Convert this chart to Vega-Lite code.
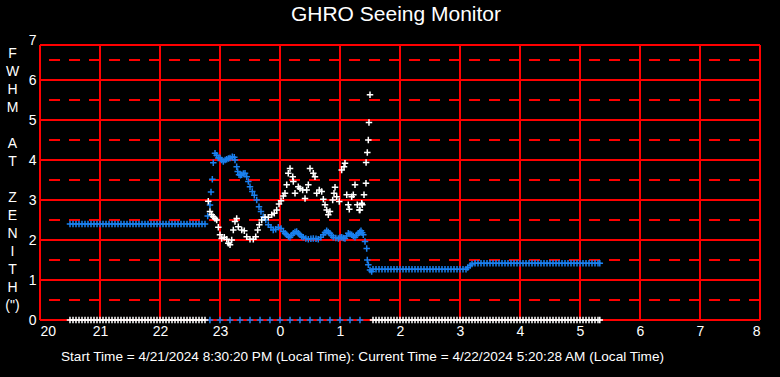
{
"$schema": "https://vega.github.io/schema/vega-lite/v6.json",
"autosize": "none",
"width": 720,
"height": 280,
"padding": {"left": 40, "top": 40, "right": 20, "bottom": 57},
"background": "#000000",
"config": {"view": {"stroke": null},
  "axisY": {"values": [0,1,2,3,4,5,6,7], "grid": false, "domain": false, "ticks": false, "labelOverlap": false,
    "labelColor": "#ffffff", "labelFont": "Liberation Sans", "labelFontSize": 14, "labelPadding": 4,
    "titleColor": "#ffffff", "titleFont": "Liberation Sans", "titleFontSize": 14, "titleFontWeight": "normal",
    "titleAngle": 0, "titleX": -28, "titleY": 13, "titleBaseline": "middle", "titleAlign": "center", "titleLineHeight": 18, "titleAnchor": "start"}},
"title": {"text": "GHRO Seeing Monitor", "color": "#ffffff", "font": "Liberation Sans", "fontSize": 21, "fontWeight": "normal", "baseline": "alphabetic", "frame": "group", "offset": 12, "anchor": "middle", "dx": -4, "dy": 21},
"layer": [
  {
    "data": {"values": [{"t":20},{"t":21},{"t":22},{"t":23},{"t":24},{"t":25},{"t":26},{"t":27},{"t":28},{"t":29},{"t":30},{"t":31},{"t":32}]},
    "mark": {"type": "rule", "stroke": "#ff0000", "strokeWidth": 2},
    "encoding": {
      "x": {"field": "t", "type": "quantitative"},
      "y": {"datum": 0, "type": "quantitative", "scale": {"domain": [0, 7], "nice": false}, "axis": {"values": [0,1,2,3,4,5,6,7], "labelOverlap": false, "title": ["F","W","H","M","\u200b","A","T","\u200b","Z","E","N","I","T","H","(\")"]}},
      "y2": {"datum": 6.875}
    }
  },
  {
    "data": {"values": [{"v":0},{"v":1},{"v":2},{"v":3},{"v":4},{"v":5},{"v":6},{"v":6.875}]},
    "mark": {"type": "rule", "stroke": "#ff0000", "strokeWidth": 2},
    "encoding": {
      "y": {"field": "v", "type": "quantitative", "axis": {"values": [0,1,2,3,4,5,6,7], "labelOverlap": false, "title": ["F","W","H","M","\u200b","A","T","\u200b","Z","E","N","I","T","H","(\")"]}}
    }
  },
  {
    "data": {"values": [{"v":0.5},{"v":1.5},{"v":2.5},{"v":3.5},{"v":4.5},{"v":5.5},{"v":6.5}]},
    "mark": {"type": "rule", "stroke": "#ff0000", "strokeWidth": 2, "strokeDash": [11, 9]},
    "encoding": {
      "y": {"field": "v", "type": "quantitative", "axis": {"values": [0,1,2,3,4,5,6,7], "labelOverlap": false, "title": ["F","W","H","M","\u200b","A","T","\u200b","Z","E","N","I","T","H","(\")"]}}
    }
  },
  {
    "data": {"values": [
{"t":22.833,"v":0,"s":"b"},{"t":23,"v":0,"s":"b"},{"t":23.167,"v":0,"s":"b"},{"t":23.333,"v":0,"s":"b"},{"t":23.5,"v":0,"s":"b"},{"t":23.667,"v":0,"s":"b"},{"t":23.833,"v":0,"s":"b"},{"t":24,"v":0,"s":"b"},{"t":24.167,"v":0,"s":"b"},{"t":24.333,"v":0,"s":"b"},{"t":24.5,"v":0,"s":"b"},{"t":24.667,"v":0,"s":"b"},{"t":24.833,"v":0,"s":"b"},{"t":25,"v":0,"s":"b"},{"t":25.167,"v":0,"s":"b"},{"t":25.333,"v":0,"s":"b"},
{"t":20.5,"v":2.4,"s":"b"},{"t":20.55,"v":2.4,"s":"b"},{"t":20.6,"v":2.4,"s":"b"},{"t":20.65,"v":2.4,"s":"b"},{"t":20.7,"v":2.4,"s":"b"},{"t":20.75,"v":2.4,"s":"b"},{"t":20.8,"v":2.4,"s":"b"},{"t":20.85,"v":2.4,"s":"b"},{"t":20.9,"v":2.4,"s":"b"},{"t":20.95,"v":2.4,"s":"b"},
{"t":21,"v":2.4,"s":"b"},{"t":21.05,"v":2.4,"s":"b"},{"t":21.1,"v":2.4,"s":"b"},{"t":21.15,"v":2.4,"s":"b"},{"t":21.2,"v":2.4,"s":"b"},{"t":21.25,"v":2.4,"s":"b"},{"t":21.3,"v":2.4,"s":"b"},{"t":21.35,"v":2.4,"s":"b"},{"t":21.4,"v":2.4,"s":"b"},{"t":21.45,"v":2.4,"s":"b"},
{"t":21.5,"v":2.4,"s":"b"},{"t":21.55,"v":2.4,"s":"b"},{"t":21.6,"v":2.4,"s":"b"},{"t":21.65,"v":2.4,"s":"b"},{"t":21.7,"v":2.4,"s":"b"},{"t":21.75,"v":2.4,"s":"b"},{"t":21.8,"v":2.4,"s":"b"},{"t":21.85,"v":2.4,"s":"b"},{"t":21.9,"v":2.4,"s":"b"},{"t":21.95,"v":2.4,"s":"b"},
{"t":22,"v":2.4,"s":"b"},{"t":22.05,"v":2.4,"s":"b"},{"t":22.1,"v":2.4,"s":"b"},{"t":22.15,"v":2.4,"s":"b"},{"t":22.2,"v":2.4,"s":"b"},{"t":22.25,"v":2.4,"s":"b"},{"t":22.3,"v":2.4,"s":"b"},{"t":22.35,"v":2.4,"s":"b"},{"t":22.4,"v":2.4,"s":"b"},{"t":22.45,"v":2.4,"s":"b"},
{"t":22.5,"v":2.4,"s":"b"},{"t":22.55,"v":2.4,"s":"b"},{"t":22.6,"v":2.4,"s":"b"},{"t":22.65,"v":2.4,"s":"b"},{"t":22.7,"v":2.4,"s":"b"},{"t":22.75,"v":2.4,"s":"b"},
{"t":22.795,"v":2.6,"s":"b"},{"t":22.833,"v":2.875,"s":"b"},{"t":22.85,"v":3.2,"s":"b"},{"t":22.872,"v":3.52,"s":"b"},{"t":22.888,"v":3.93,"s":"b"},{"t":22.917,"v":4.17,"s":"b"},{"t":22.945,"v":4.12,"s":"b"},{"t":22.97,"v":4.05,"s":"b"},{"t":23,"v":4.05,"s":"b"},{"t":23.028,"v":4.0,"s":"b"},{"t":23.055,"v":3.96,"s":"b"},{"t":23.085,"v":4.0,"s":"b"},{"t":23.112,"v":4.02,"s":"b"},{"t":23.14,"v":4.04,"s":"b"},{"t":23.167,"v":4.05,"s":"b"},{"t":23.205,"v":4.08,"s":"b"},{"t":23.238,"v":4.07,"s":"b"},{"t":23.25,"v":4.0,"s":"b"},
{"t":23.278,"v":3.83,"s":"b"},{"t":23.295,"v":3.71,"s":"b"},{"t":23.317,"v":3.63,"s":"b"},{"t":23.34,"v":3.62,"s":"b"},{"t":23.362,"v":3.63,"s":"b"},{"t":23.39,"v":3.66,"s":"b"},{"t":23.417,"v":3.67,"s":"b"},{"t":23.445,"v":3.58,"s":"b"},{"t":23.472,"v":3.46,"s":"b"},{"t":23.5,"v":3.33,"s":"b"},{"t":23.538,"v":3.21,"s":"b"},{"t":23.572,"v":3.12,"s":"b"},{"t":23.612,"v":3.0,"s":"b"},{"t":23.65,"v":2.83,"s":"b"},{"t":23.683,"v":2.71,"s":"b"},{"t":23.722,"v":2.58,"s":"b"},{"t":23.762,"v":2.5,"s":"b"},{"t":23.805,"v":2.38,"s":"b"},{"t":23.85,"v":2.32,"s":"b"},{"t":23.888,"v":2.25,"s":"b"},{"t":23.928,"v":2.27,"s":"b"},{"t":23.972,"v":2.32,"s":"b"},{"t":24.017,"v":2.29,"s":"b"},{"t":24.055,"v":2.21,"s":"b"},{"t":24.085,"v":2.17,"s":"b"},{"t":24.112,"v":2.13,"s":"b"},{"t":24.14,"v":2.09,"s":"b"},{"t":24.167,"v":2.07,"s":"b"},{"t":24.195,"v":2.12,"s":"b"},{"t":24.222,"v":2.17,"s":"b"},{"t":24.25,"v":2.2,"s":"b"},{"t":24.278,"v":2.21,"s":"b"},{"t":24.305,"v":2.17,"s":"b"},{"t":24.333,"v":2.13,"s":"b"},{"t":24.36,"v":2.09,"s":"b"},{"t":24.388,"v":2.07,"s":"b"},{"t":24.43,"v":2.04,"s":"b"},{"t":24.472,"v":2.02,"s":"b"},{"t":24.515,"v":2.03,"s":"b"},{"t":24.555,"v":2.04,"s":"b"},{"t":24.6,"v":2.03,"s":"b"},{"t":24.638,"v":2.02,"s":"b"},{"t":24.68,"v":2.07,"s":"b"},{"t":24.722,"v":2.13,"s":"b"},{"t":24.75,"v":2.19,"s":"b"},{"t":24.778,"v":2.23,"s":"b"},{"t":24.805,"v":2.2,"s":"b"},{"t":24.833,"v":2.17,"s":"b"},{"t":24.86,"v":2.11,"s":"b"},{"t":24.888,"v":2.07,"s":"b"},{"t":24.93,"v":2.05,"s":"b"},{"t":24.972,"v":2.04,"s":"b"},{"t":25.0,"v":2.06,"s":"b"},{"t":25.028,"v":2.07,"s":"b"},{"t":25.055,"v":2.05,"s":"b"},{"t":25.083,"v":2.04,"s":"b"},{"t":25.11,"v":2.1,"s":"b"},{"t":25.138,"v":2.17,"s":"b"},{"t":25.167,"v":2.15,"s":"b"},{"t":25.195,"v":2.13,"s":"b"},{"t":25.222,"v":2.1,"s":"b"},{"t":25.25,"v":2.07,"s":"b"},{"t":25.278,"v":2.12,"s":"b"},{"t":25.305,"v":2.17,"s":"b"},{"t":25.33,"v":2.2,"s":"b"},{"t":25.35,"v":2.23,"s":"b"},{"t":25.37,"v":2.18,"s":"b"},{"t":25.388,"v":2.13,"s":"b"},{"t":25.417,"v":1.96,"s":"b"},{"t":25.445,"v":1.79,"s":"b"},{"t":25.455,"v":1.5,"s":"b"},{"t":25.472,"v":1.38,"s":"b"},{"t":25.5,"v":1.25,"s":"b"},{"t":25.528,"v":1.21,"s":"b"},
{"t":25.55,"v":1.27,"s":"b"},{"t":25.6,"v":1.27,"s":"b"},{"t":25.65,"v":1.27,"s":"b"},{"t":25.7,"v":1.27,"s":"b"},{"t":25.75,"v":1.27,"s":"b"},{"t":25.8,"v":1.27,"s":"b"},{"t":25.85,"v":1.27,"s":"b"},{"t":25.9,"v":1.27,"s":"b"},{"t":25.95,"v":1.27,"s":"b"},
{"t":26,"v":1.27,"s":"b"},{"t":26.05,"v":1.27,"s":"b"},{"t":26.1,"v":1.27,"s":"b"},{"t":26.15,"v":1.27,"s":"b"},{"t":26.2,"v":1.27,"s":"b"},{"t":26.25,"v":1.27,"s":"b"},{"t":26.3,"v":1.27,"s":"b"},{"t":26.35,"v":1.27,"s":"b"},{"t":26.4,"v":1.27,"s":"b"},{"t":26.45,"v":1.27,"s":"b"},
{"t":26.5,"v":1.27,"s":"b"},{"t":26.55,"v":1.27,"s":"b"},{"t":26.6,"v":1.27,"s":"b"},{"t":26.65,"v":1.27,"s":"b"},{"t":26.7,"v":1.27,"s":"b"},{"t":26.75,"v":1.27,"s":"b"},{"t":26.8,"v":1.27,"s":"b"},{"t":26.85,"v":1.27,"s":"b"},{"t":26.9,"v":1.27,"s":"b"},{"t":26.95,"v":1.27,"s":"b"},
{"t":27,"v":1.27,"s":"b"},{"t":27.05,"v":1.27,"s":"b"},{"t":27.1,"v":1.27,"s":"b"},{"t":27.13,"v":1.31,"s":"b"},{"t":27.17,"v":1.36,"s":"b"},{"t":27.2,"v":1.4,"s":"b"},
{"t":27.25,"v":1.42,"s":"b"},{"t":27.3,"v":1.42,"s":"b"},{"t":27.35,"v":1.42,"s":"b"},{"t":27.4,"v":1.42,"s":"b"},{"t":27.45,"v":1.42,"s":"b"},{"t":27.5,"v":1.42,"s":"b"},{"t":27.55,"v":1.42,"s":"b"},{"t":27.6,"v":1.42,"s":"b"},{"t":27.65,"v":1.42,"s":"b"},{"t":27.7,"v":1.42,"s":"b"},{"t":27.75,"v":1.42,"s":"b"},{"t":27.8,"v":1.42,"s":"b"},{"t":27.85,"v":1.42,"s":"b"},{"t":27.9,"v":1.42,"s":"b"},{"t":27.95,"v":1.42,"s":"b"},
{"t":28,"v":1.42,"s":"b"},{"t":28.05,"v":1.42,"s":"b"},{"t":28.1,"v":1.42,"s":"b"},{"t":28.15,"v":1.42,"s":"b"},{"t":28.2,"v":1.42,"s":"b"},{"t":28.25,"v":1.42,"s":"b"},{"t":28.3,"v":1.42,"s":"b"},{"t":28.35,"v":1.42,"s":"b"},{"t":28.4,"v":1.42,"s":"b"},{"t":28.45,"v":1.42,"s":"b"},
{"t":28.5,"v":1.42,"s":"b"},{"t":28.55,"v":1.42,"s":"b"},{"t":28.6,"v":1.42,"s":"b"},{"t":28.65,"v":1.42,"s":"b"},{"t":28.7,"v":1.42,"s":"b"},{"t":28.75,"v":1.42,"s":"b"},{"t":28.8,"v":1.42,"s":"b"},{"t":28.85,"v":1.42,"s":"b"},{"t":28.9,"v":1.42,"s":"b"},{"t":28.95,"v":1.42,"s":"b"},
{"t":29,"v":1.42,"s":"b"},{"t":29.05,"v":1.42,"s":"b"},{"t":29.1,"v":1.42,"s":"b"},{"t":29.15,"v":1.42,"s":"b"},{"t":29.2,"v":1.42,"s":"b"},{"t":29.25,"v":1.42,"s":"b"},{"t":29.3,"v":1.42,"s":"b"},{"t":29.33,"v":1.42,"s":"b"},
{"t":20.5,"v":0,"s":"w"},{"t":20.55,"v":0,"s":"w"},{"t":20.6,"v":0,"s":"w"},{"t":20.65,"v":0,"s":"w"},{"t":20.7,"v":0,"s":"w"},{"t":20.75,"v":0,"s":"w"},{"t":20.8,"v":0,"s":"w"},{"t":20.85,"v":0,"s":"w"},{"t":20.9,"v":0,"s":"w"},{"t":20.95,"v":0,"s":"w"},
{"t":21,"v":0,"s":"w"},{"t":21.05,"v":0,"s":"w"},{"t":21.1,"v":0,"s":"w"},{"t":21.15,"v":0,"s":"w"},{"t":21.2,"v":0,"s":"w"},{"t":21.25,"v":0,"s":"w"},{"t":21.3,"v":0,"s":"w"},{"t":21.35,"v":0,"s":"w"},{"t":21.4,"v":0,"s":"w"},{"t":21.45,"v":0,"s":"w"},
{"t":21.5,"v":0,"s":"w"},{"t":21.55,"v":0,"s":"w"},{"t":21.6,"v":0,"s":"w"},{"t":21.65,"v":0,"s":"w"},{"t":21.7,"v":0,"s":"w"},{"t":21.75,"v":0,"s":"w"},{"t":21.8,"v":0,"s":"w"},{"t":21.85,"v":0,"s":"w"},{"t":21.9,"v":0,"s":"w"},{"t":21.95,"v":0,"s":"w"},
{"t":22,"v":0,"s":"w"},{"t":22.05,"v":0,"s":"w"},{"t":22.1,"v":0,"s":"w"},{"t":22.15,"v":0,"s":"w"},{"t":22.2,"v":0,"s":"w"},{"t":22.25,"v":0,"s":"w"},{"t":22.3,"v":0,"s":"w"},{"t":22.35,"v":0,"s":"w"},{"t":22.4,"v":0,"s":"w"},{"t":22.45,"v":0,"s":"w"},
{"t":22.5,"v":0,"s":"w"},{"t":22.55,"v":0,"s":"w"},{"t":22.6,"v":0,"s":"w"},{"t":22.65,"v":0,"s":"w"},{"t":22.7,"v":0,"s":"w"},{"t":22.75,"v":0,"s":"w"},
{"t":22.805,"v":2.97,"s":"w"},{"t":22.833,"v":2.71,"s":"w"},{"t":22.862,"v":2.63,"s":"w"},{"t":22.888,"v":2.58,"s":"w"},{"t":22.917,"v":2.54,"s":"w"},{"t":22.945,"v":2.5,"s":"w"},{"t":22.972,"v":2.32,"s":"w"},{"t":23,"v":2.13,"s":"w"},{"t":23.028,"v":2.04,"s":"w"},{"t":23.072,"v":2.07,"s":"w"},{"t":23.112,"v":2.02,"s":"w"},{"t":23.138,"v":1.92,"s":"w"},{"t":23.167,"v":1.88,"s":"w"},{"t":23.195,"v":2.0,"s":"w"},{"t":23.222,"v":2.25,"s":"w"},{"t":23.25,"v":2.46,"s":"w"},{"t":23.278,"v":2.54,"s":"w"},{"t":23.305,"v":2.33,"s":"w"},{"t":23.362,"v":2.25,"s":"w"},{"t":23.405,"v":2.23,"s":"w"},{"t":23.445,"v":2.08,"s":"w"},{"t":23.5,"v":2.02,"s":"w"},{"t":23.555,"v":2.02,"s":"w"},{"t":23.595,"v":2.08,"s":"w"},{"t":23.628,"v":2.25,"s":"w"},{"t":23.655,"v":2.38,"s":"w"},{"t":23.695,"v":2.5,"s":"w"},{"t":23.75,"v":2.57,"s":"w"},{"t":23.805,"v":2.57,"s":"w"},{"t":23.862,"v":2.63,"s":"w"},{"t":23.905,"v":2.67,"s":"w"},{"t":23.945,"v":2.75,"s":"w"},{"t":23.983,"v":2.9,"s":"w"},{"t":24.017,"v":2.98,"s":"w"},{"t":24.055,"v":3.1,"s":"w"},{"t":24.083,"v":3.17,"s":"w"},{"t":24.112,"v":3.38,"s":"w"},{"t":24.138,"v":3.67,"s":"w"},{"t":24.167,"v":3.79,"s":"w"},{"t":24.212,"v":3.58,"s":"w"},{"t":24.222,"v":3.46,"s":"w"},{"t":24.25,"v":3.17,"s":"w"},{"t":24.305,"v":3.33,"s":"w"},{"t":24.333,"v":3.29,"s":"w"},{"t":24.378,"v":3.25,"s":"w"},{"t":24.417,"v":3.04,"s":"w"},{"t":24.445,"v":3.25,"s":"w"},{"t":24.472,"v":3.38,"s":"w"},{"t":24.5,"v":3.79,"s":"w"},{"t":24.555,"v":3.67,"s":"w"},{"t":24.583,"v":3.58,"s":"w"},{"t":24.612,"v":3.17,"s":"w"},{"t":24.655,"v":3.25,"s":"w"},{"t":24.695,"v":3.21,"s":"w"},{"t":24.722,"v":3.02,"s":"w"},{"t":24.75,"v":2.88,"s":"w"},{"t":24.778,"v":2.75,"s":"w"},{"t":24.805,"v":2.63,"s":"w"},{"t":24.833,"v":2.71,"s":"w"},{"t":24.878,"v":3.0,"s":"w"},{"t":24.9,"v":3.17,"s":"w"},{"t":24.917,"v":3.32,"s":"w"},{"t":24.945,"v":3.08,"s":"w"},{"t":24.988,"v":2.96,"s":"w"},{"t":25.028,"v":3.75,"s":"w"},{"t":25.067,"v":3.83,"s":"w"},{"t":25.083,"v":3.92,"s":"w"},{"t":25.112,"v":3.13,"s":"w"},{"t":25.138,"v":2.88,"s":"w"},{"t":25.155,"v":2.77,"s":"w"},{"t":25.195,"v":3.08,"s":"w"},{"t":25.222,"v":3.13,"s":"w"},{"t":25.25,"v":3.38,"s":"w"},{"t":25.288,"v":2.88,"s":"w"},{"t":25.322,"v":2.75,"s":"w"},{"t":25.333,"v":2.75,"s":"w"},{"t":25.362,"v":2.92,"s":"w"},{"t":25.372,"v":2.88,"s":"w"},{"t":25.4,"v":3.13,"s":"w"},{"t":25.433,"v":3.42,"s":"w"},{"t":25.435,"v":3.94,"s":"w"},{"t":25.455,"v":4.19,"s":"w"},{"t":25.472,"v":4.5,"s":"w"},{"t":25.483,"v":4.94,"s":"w"},{"t":25.5,"v":5.63,"s":"w"},
{"t":25.55,"v":0,"s":"w"},{"t":25.6,"v":0,"s":"w"},{"t":25.65,"v":0,"s":"w"},{"t":25.7,"v":0,"s":"w"},{"t":25.75,"v":0,"s":"w"},{"t":25.8,"v":0,"s":"w"},{"t":25.85,"v":0,"s":"w"},{"t":25.9,"v":0,"s":"w"},{"t":25.95,"v":0,"s":"w"},
{"t":26,"v":0,"s":"w"},{"t":26.05,"v":0,"s":"w"},{"t":26.1,"v":0,"s":"w"},{"t":26.15,"v":0,"s":"w"},{"t":26.2,"v":0,"s":"w"},{"t":26.25,"v":0,"s":"w"},{"t":26.3,"v":0,"s":"w"},{"t":26.35,"v":0,"s":"w"},{"t":26.4,"v":0,"s":"w"},{"t":26.45,"v":0,"s":"w"},
{"t":26.5,"v":0,"s":"w"},{"t":26.55,"v":0,"s":"w"},{"t":26.6,"v":0,"s":"w"},{"t":26.65,"v":0,"s":"w"},{"t":26.7,"v":0,"s":"w"},{"t":26.75,"v":0,"s":"w"},{"t":26.8,"v":0,"s":"w"},{"t":26.85,"v":0,"s":"w"},{"t":26.9,"v":0,"s":"w"},{"t":26.95,"v":0,"s":"w"},
{"t":27,"v":0,"s":"w"},{"t":27.05,"v":0,"s":"w"},{"t":27.1,"v":0,"s":"w"},{"t":27.15,"v":0,"s":"w"},{"t":27.2,"v":0,"s":"w"},{"t":27.25,"v":0,"s":"w"},{"t":27.3,"v":0,"s":"w"},{"t":27.35,"v":0,"s":"w"},{"t":27.4,"v":0,"s":"w"},{"t":27.45,"v":0,"s":"w"},
{"t":27.5,"v":0,"s":"w"},{"t":27.55,"v":0,"s":"w"},{"t":27.6,"v":0,"s":"w"},{"t":27.65,"v":0,"s":"w"},{"t":27.7,"v":0,"s":"w"},{"t":27.75,"v":0,"s":"w"},{"t":27.8,"v":0,"s":"w"},{"t":27.85,"v":0,"s":"w"},{"t":27.9,"v":0,"s":"w"},{"t":27.95,"v":0,"s":"w"},
{"t":28,"v":0,"s":"w"},{"t":28.05,"v":0,"s":"w"},{"t":28.1,"v":0,"s":"w"},{"t":28.15,"v":0,"s":"w"},{"t":28.2,"v":0,"s":"w"},{"t":28.25,"v":0,"s":"w"},{"t":28.3,"v":0,"s":"w"},{"t":28.35,"v":0,"s":"w"},{"t":28.4,"v":0,"s":"w"},{"t":28.45,"v":0,"s":"w"},
{"t":28.5,"v":0,"s":"w"},{"t":28.55,"v":0,"s":"w"},{"t":28.6,"v":0,"s":"w"},{"t":28.65,"v":0,"s":"w"},{"t":28.7,"v":0,"s":"w"},{"t":28.75,"v":0,"s":"w"},{"t":28.8,"v":0,"s":"w"},{"t":28.85,"v":0,"s":"w"},{"t":28.9,"v":0,"s":"w"},{"t":28.95,"v":0,"s":"w"},
{"t":29,"v":0,"s":"w"},{"t":29.05,"v":0,"s":"w"},{"t":29.1,"v":0,"s":"w"},{"t":29.15,"v":0,"s":"w"},{"t":29.2,"v":0,"s":"w"},{"t":29.25,"v":0,"s":"w"},{"t":29.3,"v":0,"s":"w"},{"t":29.33,"v":0,"s":"w"}
    ]},
    "mark": {"type": "point", "shape": "M-1,0H1M0,-1V1", "filled": false, "size": 42, "strokeWidth": 1.5, "opacity": 1},
    "encoding": {
      "x": {"field": "t", "type": "quantitative", "scale": {"domain": [20, 32], "nice": false, "zero": false},
        "axis": {"values": [20,21,22,23,24,25,26,27,28,29,30,31,32], "grid": false, "domain": false, "ticks": false,
          "labelColor": "#ffffff", "labelFont": "Liberation Sans", "labelFontSize": 14, "labelPadding": 4, "labelDx": 2,
          "labelExpr": "datum.value >= 24 ? datum.value - 24 : datum.value", "labelOverlap": false,
          "title": "Start Time = 4/21/2024 8:30:20 PM (Local Time):  Current Time = 4/22/2024 5:20:28 AM (Local Time)",
          "titleColor": "#ffffff", "titleFont": "Liberation Sans", "titleFontSize": 13.6, "titleFontWeight": "normal",
          "titleX": 322, "titleY": 36, "titleBaseline": "middle", "titleAlign": "center", "titleAnchor": "start"}},
      "y": {"field": "v", "type": "quantitative", "scale": {"domain": [0, 7], "nice": false},
        "axis": {"values": [0,1,2,3,4,5,6,7], "labelOverlap": false, "title": ["F","W","H","M","\u200b","A","T","\u200b","Z","E","N","I","T","H","(\")"]}},
      "color": {"field": "s", "type": "nominal", "scale": {"domain": ["b", "w"], "range": ["#1a80f0", "#ffffff"]}, "legend": null}
    }
  }
]
}
